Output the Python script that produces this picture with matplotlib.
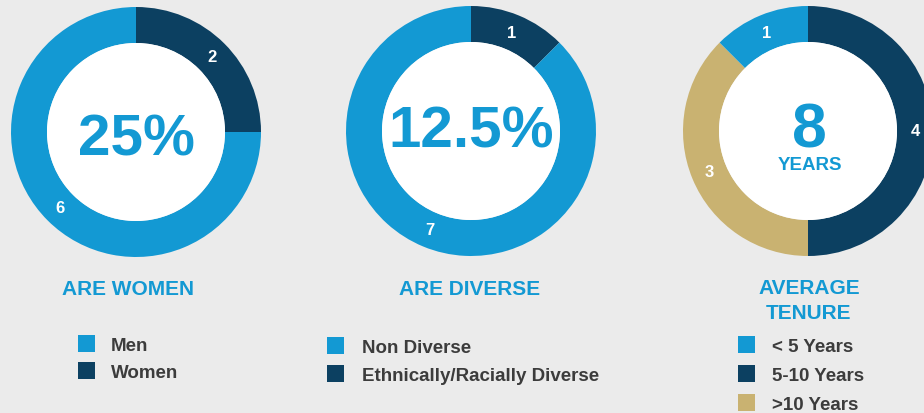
import matplotlib
matplotlib.use("Agg")
import matplotlib.pyplot as plt
from matplotlib.patches import Circle, Rectangle

plt.rcParams["font.family"] = ["Liberation Sans", "DejaVu Sans"]
plt.rcParams["font.weight"] = "bold"

BLUE = "#1399d3"
NAVY = "#0c4061"
GOLD = "#c9b271"
BG = "#ebebeb"
TXT = "#3c3c3c"

H = 414  # image height in px, used to flip y

# data (wedges listed clockwise from 12 o'clock)
women_labels = ["Women", "Men"]
women_values = [2, 6]
women_colors = [NAVY, BLUE]

diverse_labels = ["Ethnically/Racially Diverse", "Non Diverse"]
diverse_values = [1, 7]
diverse_colors = [NAVY, BLUE]

tenure_labels = ["5-10 Years", ">10 Years", "< 5 Years"]
tenure_values = [4, 3, 1]
tenure_colors = [NAVY, GOLD, BLUE]

# legend entries in display order
legend1 = [("Men", BLUE), ("Women", NAVY)]
legend2 = [("Non Diverse", BLUE), ("Ethnically/Racially Diverse", NAVY)]
legend3 = [("< 5 Years", BLUE), ("5-10 Years", NAVY), (">10 Years", GOLD)]

fig = plt.figure(figsize=(9.24, 4.14), dpi=100, facecolor=BG)
ax = fig.add_axes([0, 0, 1, 1])
ax.set_facecolor(BG)

R_OUT = 125
R_IN = 89


def donut(cx, cy, values, colors):
    total = sum(values)
    ax.pie(values, colors=colors, center=(cx, H - cy), radius=R_OUT,
           startangle=90, counterclock=False, frame=True,
           wedgeprops=dict(width=R_OUT - R_IN, edgecolor="none"),
           autopct=lambda p: "%d" % round(p * total / 100.0),
           pctdistance=(R_OUT + R_IN) / 2.0 / R_OUT,
           textprops=dict(color="white", fontsize=12, fontweight="bold"))
    ax.add_patch(Circle((cx, H - cy), R_IN, facecolor="white", edgecolor="none", zorder=3))


donut(136, 133, women_values, women_colors)
donut(471, 132, diverse_values, diverse_colors)
donut(808, 132, tenure_values, tenure_colors)

# centre numbers
ax.text(136, H - 155, "25%", color=BLUE, fontsize=42, fontweight="bold",
        ha="center", va="baseline", zorder=4)
ax.text(471, H - 148, "12.5%", color=BLUE, fontsize=42, fontweight="bold",
        ha="center", va="baseline", zorder=4)
ax.text(809, H - 147, "8", color=BLUE, fontsize=45, fontweight="bold",
        ha="center", va="baseline", zorder=4)
ax.text(810, H - 170, "YEARS", color=BLUE, fontsize=13.5, fontweight="bold",
        ha="center", va="baseline", zorder=4)

# titles
ax.text(128, H - 295, "ARE WOMEN", color=BLUE, fontsize=15, ha="center", va="baseline")
ax.text(470, H - 295, "ARE DIVERSE", color=BLUE, fontsize=15, ha="center", va="baseline")
ax.text(809, H - 294, "AVERAGE", color=BLUE, fontsize=15, ha="center", va="baseline")
ax.text(809, H - 319, "TENURE", color=BLUE, fontsize=15, ha="center", va="baseline")


def legend(entries, x_box, x_txt, y_first, step):
    for i, (lab, col) in enumerate(entries):
        yc = y_first + i * step
        ax.add_patch(Rectangle((x_box, H - yc - 8.5), 17, 17, facecolor=col, edgecolor="none"))
        ax.text(x_txt, H - yc - 7, lab, color=TXT, fontsize=13.5, ha="left", va="baseline")


legend(legend1, 78, 111, 344, 27)
legend(legend2, 327, 362, 346, 28.5)
legend(legend3, 738, 772, 345, 29)

ax.set_xlim(0, 924)
ax.set_ylim(0, H)
ax.set_aspect("equal")
ax.axis("off")

fig.savefig("out.png", dpi=100, facecolor=BG)
